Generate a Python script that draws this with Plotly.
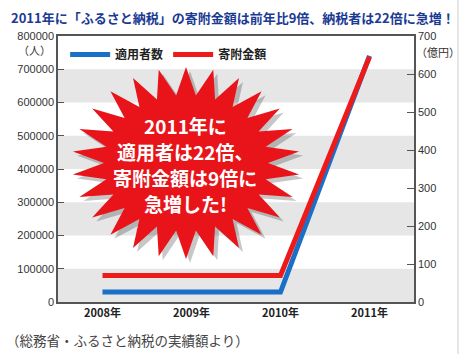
import math
import plotly.graph_objects as go

years = ["2008年", "2009年", "2010年", "2011年"]
persons = [30000, 30000, 30000, 740000]      # 適用者数 (人)
amounts = [70, 70, 70, 645]                   # 寄附金額 (億円)
left_ticks = [0, 100000, 200000, 300000, 400000, 500000, 600000, 700000, 800000]
right_ticks = [0, 100, 200, 300, 400, 500, 600, 700]
burst_lines = ["2011年に", "適用者は22倍、", "寄附金額は9倍に", "急増した!"]

BLUE = "#1a6fc6"
RED = "#ee1a1a"
JP = "Noto Sans CJK JP, Arial"
W, H = 462, 354
ML, MR, MT, MB = 58, 48, 36, 52
PW, PH = W - ML - MR, H - MT - MB

xs = list(range(len(years)))

fig = go.Figure()
fig.add_trace(go.Scatter(x=xs, y=amounts, name="寄附金額", mode="lines",
                         line=dict(color=RED, width=5), yaxis="y2"))
fig.add_trace(go.Scatter(x=xs, y=persons, name="適用者数", mode="lines",
                         line=dict(color=BLUE, width=5), yaxis="y"))

shapes = []
for lo in [0, 200000, 400000, 600000]:
    shapes.append(dict(type="rect", xref="paper", yref="y", x0=0, x1=1, y0=lo, y1=lo + 100000,
                       fillcolor="#e6e6e6", line=dict(width=0), layer="below"))

def px2paper(px, py):
    return (px - ML) / PW, (H - MB - py) / PH

def star_path(cx, cy, rxo, ryo, rxi, ryi, n, dx=0, dy=0):
    pts = []
    for i in range(2 * n):
        a = -math.pi / 2 + i * math.pi / n
        if i % 2 == 0:
            px, py = cx + dx + rxo * math.cos(a), cy + dy + ryo * math.sin(a)
        else:
            px, py = cx + dx + rxi * math.cos(a), cy + dy + ryi * math.sin(a)
        pts.append(px2paper(px, py))
    return "M " + " L ".join(f"{x:.4f},{y:.4f}" for x, y in pts) + " Z"

cx, cy = 186, 163
shapes.append(dict(type="path", xref="paper", yref="paper",
                   path=star_path(cx, cy, 114, 96, 82, 68, 26, 4, 4),
                   fillcolor="rgba(0,0,0,0.22)", line=dict(width=0)))
shapes.append(dict(type="path", xref="paper", yref="paper",
                   path=star_path(cx, cy, 114, 96, 82, 68, 26),
                   fillcolor="#e8141a", line=dict(width=0)))
shapes.append(dict(type="line", xref="paper", yref="paper",
                   x0=(W - 4 - ML) / PW, x1=(W - 4 - ML) / PW, y0=-MB / PH, y1=(PH + MT) / PH,
                   line=dict(color="#cccccc", width=1)))

fig.update_layout(
    width=W, height=H,
    margin=dict(l=ML, r=MR, t=MT, b=MB),
    paper_bgcolor="white", plot_bgcolor="white",
    font=dict(family=JP, size=11, color="#333"),
    shapes=shapes,
    showlegend=True,
    legend=dict(orientation="h", x=0.02, y=0.985, xanchor="left", yanchor="top",
                bgcolor="rgba(0,0,0,0)", traceorder="reversed", itemwidth=40,
                font=dict(family=JP, size=12, color="#222", weight="bold")),
    xaxis=dict(range=[-0.5, 3.5], tickvals=xs, ticktext=years, showgrid=False,
               zeroline=False, showline=True, mirror=True, linecolor="#555", linewidth=1.5,
               ticks="", tickfont=dict(family=JP, size=11, color="#222", weight="bold")),
    yaxis=dict(range=[0, 800000], tickvals=left_ticks, ticktext=[str(v) for v in left_ticks],
               showgrid=False, zeroline=False, showline=True, linecolor="#555", linewidth=1.5,
               ticks="inside", ticklen=6, tickcolor="#555",
               tickfont=dict(family="Arial", size=11, color="#333")),
    yaxis2=dict(range=[0, 700], tickvals=right_ticks, ticktext=[str(v) for v in right_ticks],
                overlaying="y", side="right", showgrid=False, zeroline=False, showline=True,
                linecolor="#555", linewidth=1.5, ticks="inside", ticklen=7, tickcolor="#555",
                tickfont=dict(family="Arial", size=11, color="#333")),
)

ann = [
    dict(text="<b>2011年に「ふるさと納税」の寄附金額は前年比9倍、納税者は22倍に急増！</b>",
         xref="paper", yref="paper", x=(9 - ML) / PW, y=(H - MB - 18) / PH,
         xanchor="left", yanchor="middle", showarrow=False,
         font=dict(family=JP, size=13, color="#1b3a94")),
    dict(text="（人）", xref="paper", yref="paper", x=(53 - ML) / PW, y=(H - MB - 50) / PH,
         xanchor="right", yanchor="middle", showarrow=False,
         font=dict(family=JP, size=11, color="#333")),
    dict(text="（億円）", xref="paper", yref="paper", x=(414 - ML) / PW, y=(H - MB - 52) / PH,
         xanchor="left", yanchor="middle", showarrow=False,
         font=dict(family=JP, size=11, color="#333")),
    dict(text="（総務省・ふるさと納税の実績額より）", xref="paper", yref="paper",
         x=(4 - ML) / PW, y=(H - MB - 340) / PH, xanchor="left", yanchor="middle",
         showarrow=False, font=dict(family=JP, size=13.5, color="#444")),
]
for i, t in enumerate(burst_lines):
    ann.append(dict(text=t, xref="paper", yref="paper",
                    x=(cx - 1 - ML) / PW, y=(H - MB - (125 + 26 * i)) / PH,
                    xanchor="center", yanchor="middle", showarrow=False,
                    font=dict(family=JP, size=19, color="white", weight="bold")))
fig.update_layout(annotations=ann)

fig.write_html("out.html")
